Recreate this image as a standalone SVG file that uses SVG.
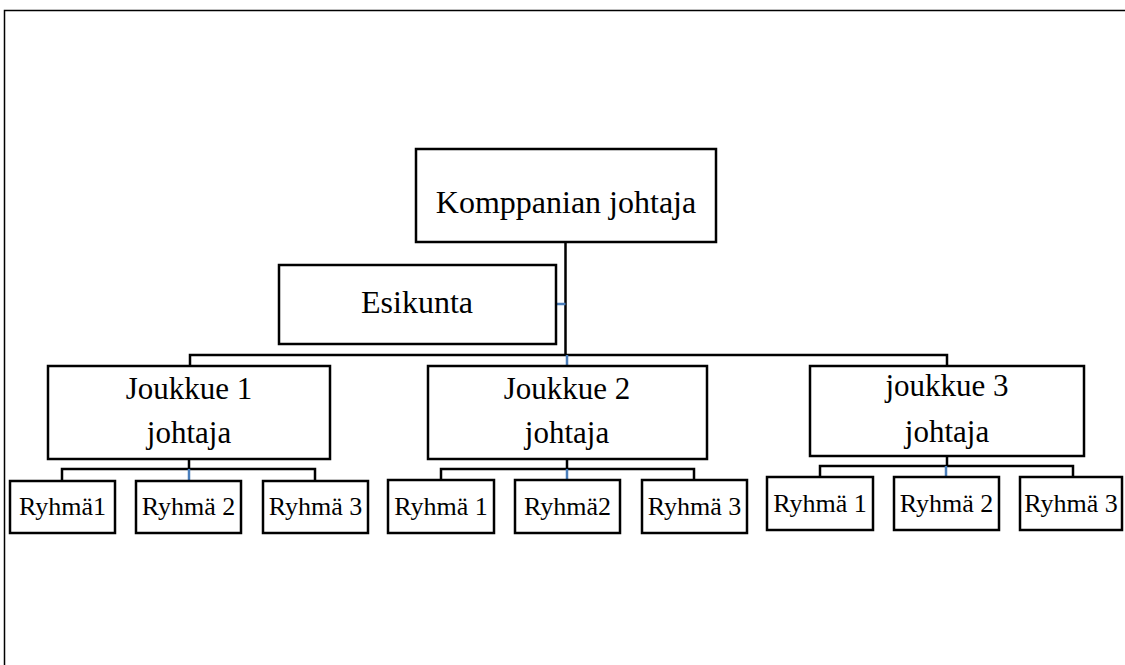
<svg xmlns="http://www.w3.org/2000/svg" width="1125" height="665" viewBox="0 0 1125 665">
<style>
.box{fill:#fff;stroke:#000;stroke-width:2.5}
.t{font-family:"Liberation Serif","Times New Roman",serif;fill:#000;text-anchor:middle}
.big{font-size:32px}
.mid{font-size:31px}
.sm{font-size:26px}
.ln{stroke:#000;stroke-width:2.5;fill:none}
.bl{stroke:#4a7ebb;stroke-width:2.5;fill:none}
</style>
<rect width="1125" height="665" fill="#fff"/>
<path d="M4.5 665 V10.5 H1125" fill="none" stroke="#000" stroke-width="1.5"/>
<g id="connectors">
<path class="ln" d="M565.5 242 V355 M190 366 V355 H947 V366"/>
<path class="bl" d="M556 304 H565.5 M567 355 V366"/>
<path class="ln" d="M189 459 V469 M62 480 V469 H315 V480"/>
<path class="bl" d="M189 469 V480"/>
<path class="ln" d="M567 459 V469 M441 480 V469 H694 V480"/>
<path class="bl" d="M567 469 V480"/>
<path class="ln" d="M947 456 V466 M820 477 V466 H1073 V477"/>
<path class="bl" d="M946 466 V477"/>
</g>
<g id="n-komppania"><rect class="box" x="416" y="149" width="300" height="93"/><text class="t big" x="566" y="213">Komppanian johtaja</text></g>
<g id="n-esikunta"><rect class="box" x="279" y="265" width="277" height="79"/><text class="t big" x="417" y="313">Esikunta</text></g>
<g id="n-j1"><rect class="box" x="48" y="366" width="282" height="93"/><text class="t mid" x="189" y="399">Joukkue 1</text><text class="t mid" x="189" y="443">johtaja</text></g>
<g id="n-j2"><rect class="box" x="428" y="366" width="279" height="93"/><text class="t mid" x="567" y="399">Joukkue 2</text><text class="t mid" x="567" y="443">johtaja</text></g>
<g id="n-j3"><rect class="box" x="810" y="366" width="274" height="90"/><text class="t mid" x="947" y="396">joukkue 3</text><text class="t mid" x="947" y="442">johtaja</text></g>
<g id="n-j1r1"><rect class="box" x="10" y="481" width="105" height="52"/><text class="t sm" x="62.5" y="515">Ryhmä1</text></g>
<g id="n-j1r2"><rect class="box" x="136" y="481" width="105" height="52"/><text class="t sm" x="188.5" y="515">Ryhmä 2</text></g>
<g id="n-j1r3"><rect class="box" x="263" y="481" width="105" height="52"/><text class="t sm" x="315.5" y="515">Ryhmä 3</text></g>
<g id="n-j2r1"><rect class="box" x="388" y="480" width="106" height="53"/><text class="t sm" x="441" y="515">Ryhmä 1</text></g>
<g id="n-j2r2"><rect class="box" x="515" y="480" width="105" height="53"/><text class="t sm" x="567.5" y="515">Ryhmä2</text></g>
<g id="n-j2r3"><rect class="box" x="642" y="480" width="105" height="53"/><text class="t sm" x="694.5" y="515">Ryhmä 3</text></g>
<g id="n-j3r1"><rect class="box" x="767" y="477" width="106" height="53"/><text class="t sm" x="820" y="512">Ryhmä 1</text></g>
<g id="n-j3r2"><rect class="box" x="894" y="477" width="105" height="53"/><text class="t sm" x="946.5" y="512">Ryhmä 2</text></g>
<g id="n-j3r3"><rect class="box" x="1020" y="477" width="102" height="53"/><text class="t sm" x="1071" y="512">Ryhmä 3</text></g>
</svg>
